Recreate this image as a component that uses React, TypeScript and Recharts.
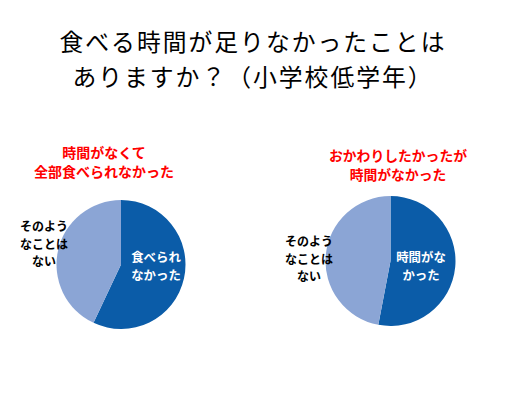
import React from "react";
import { PieChart, Pie, Cell } from "recharts";

const titleLines = ["食べる時間が足りなかったことは", "ありますか？（小学校低学年）"];

const leftCategories = ["食べられなかった", "そのようなことはない"];
const leftValues = [57, 43];
const leftLabels = [["食べられ", "なかった"], ["そのよう", "なことは", "ない"]];
const leftHeading = ["時間がなくて", "全部食べられなかった"];

const rightCategories = ["時間がなかった", "そのようなことはない"];
const rightValues = [53, 47];
const rightLabels = [["時間がな", "かった"], ["そのよう", "なことは", "ない"]];
const rightHeading = ["おかわりしたかったが", "時間がなかった"];

const COLORS = ["#0b5ca8", "#8ba5d5"];
const FONT = "'Noto Sans CJK JP', 'Noto Sans', sans-serif";

const leftData = leftCategories.map((name, i) => ({ name, value: leftValues[i] }));
const rightData = rightCategories.map((name, i) => ({ name, value: rightValues[i] }));

type Off = { dx: number; dy: number[] };

const makeLabel = (labels: string[][], offs: Off[]) => (props: any) => {
  const { cx, cy, index } = props;
  const lines = labels[index];
  const o = offs[index];
  return (
    <g key={`l-${index}`}>
      {lines.map((t, i) => (
        <text
          key={i}
          x={cx + o.dx}
          y={cy + o.dy[i]}
          textAnchor="middle"
          dominantBaseline="central"
          fill={index === 0 ? "#ffffff" : "#000000"}
          fontFamily={FONT}
          fontWeight="bold"
          fontSize={index === 0 ? 12.4 : 12}
        >
          {t}
        </text>
      ))}
    </g>
  );
};

const leftOffs: Off[] = [
  { dx: 35, dy: [-7.5, 10.5] },
  { dx: -77, dy: [-39.5, -21.5, -4] },
];
const rightOffs: Off[] = [
  { dx: 30.5, dy: [-4, 14] },
  { dx: -81.5, dy: [-21, -3, 14] },
];

export default function App() {
  return (
    <div style={{ position: "absolute", left: 0, top: 0, width: 530, height: 398, background: "#fff" }}>
      <PieChart width={530} height={398} margin={{ top: 0, right: 0, bottom: 0, left: 0 }}>
        <Pie
          data={leftData}
          dataKey="value"
          nameKey="name"
          cx={121}
          cy={264.5}
          outerRadius={64.5}
          startAngle={90}
          endAngle={-270}
          stroke="none"
          isAnimationActive={false}
          labelLine={false}
          label={makeLabel(leftLabels, leftOffs)}
        >
          {leftData.map((_, i) => (
            <Cell key={i} fill={COLORS[i]} />
          ))}
        </Pie>
        <Pie
          data={rightData}
          dataKey="value"
          nameKey="name"
          cx={390.5}
          cy={261}
          outerRadius={65}
          startAngle={90}
          endAngle={-270}
          stroke="none"
          isAnimationActive={false}
          labelLine={false}
          label={makeLabel(rightLabels, rightOffs)}
        >
          {rightData.map((_, i) => (
            <Cell key={i} fill={COLORS[i]} />
          ))}
        </Pie>
      </PieChart>
      <svg width={530} height={398} style={{ position: "absolute", left: 0, top: 0, pointerEvents: "none" }}>
        {titleLines.map((t, i) => (
          <text
            key={i}
            x={253}
            y={40.5 + i * 34.5}
            textAnchor="middle"
            dominantBaseline="central"
            fontFamily={FONT}
            fontSize={23.8}
            letterSpacing={2}
            fill="#000"
          >
            {t}
          </text>
        ))}
        {leftHeading.map((t, i) => (
          <text
            key={`lh${i}`}
            x={104}
            y={152 + i * 18.5}
            textAnchor="middle"
            dominantBaseline="central"
            fontFamily={FONT}
            fontWeight="bold"
            fontSize={14}
            fill="#ff0000"
          >
            {t}
          </text>
        ))}
        {rightHeading.map((t, i) => (
          <text
            key={`rh${i}`}
            x={398}
            y={154.5 + i * 19}
            textAnchor="middle"
            dominantBaseline="central"
            fontFamily={FONT}
            fontWeight="bold"
            fontSize={13.8}
            fill="#ff0000"
          >
            {t}
          </text>
        ))}
      </svg>
    </div>
  );
}
